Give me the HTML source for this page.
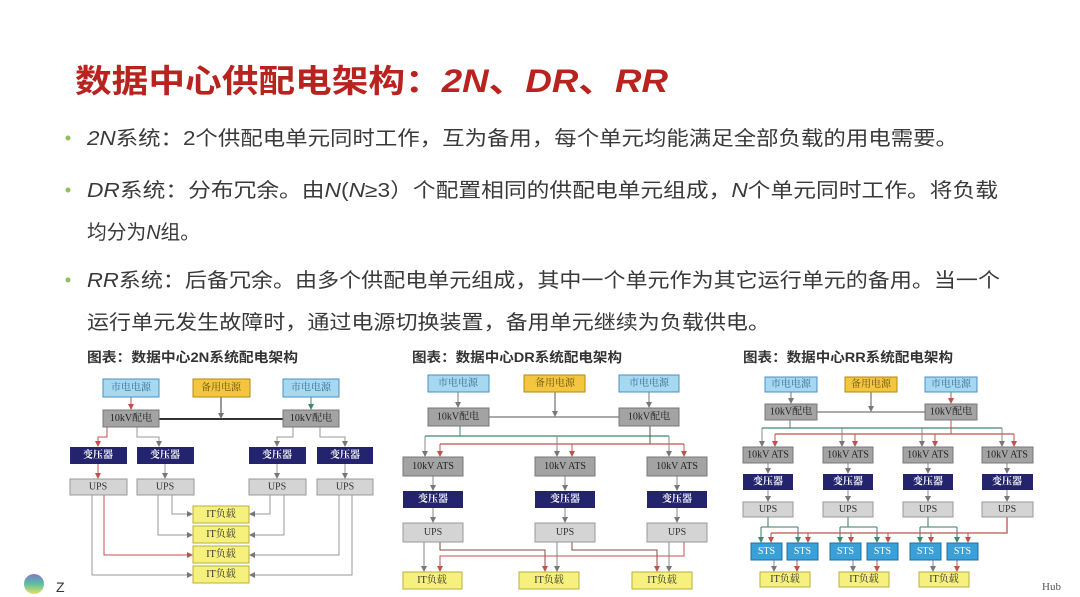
<!DOCTYPE html>
<html><head><meta charset="utf-8"><style>
html,body{margin:0;padding:0;background:#fff;width:1080px;height:597px;overflow:hidden}
svg{display:block}
.t{font-family:"Liberation Sans","Noto Sans CJK SC",sans-serif}
.bx{font-family:"Liberation Serif","Noto Serif CJK SC",serif;font-size:10px;text-anchor:middle;dominant-baseline:central}
</style></head><body>
<svg width="1080" height="597" viewBox="0 0 1080 597" xmlns="http://www.w3.org/2000/svg">
<defs>
<marker id="ag" markerWidth="6" markerHeight="6" refX="5" refY="3" orient="auto" markerUnits="userSpaceOnUse"><path d="M0,0L6,3L0,6z" fill="#777"/></marker>
<marker id="ar" markerWidth="6" markerHeight="6" refX="5" refY="3" orient="auto" markerUnits="userSpaceOnUse"><path d="M0,0L6,3L0,6z" fill="#c0504d"/></marker>
<marker id="an" markerWidth="6" markerHeight="6" refX="5" refY="3" orient="auto" markerUnits="userSpaceOnUse"><path d="M0,0L6,3L0,6z" fill="#3d8a6a"/></marker>
</defs>
<text class="t" x="75" y="92" font-size="32" font-weight="bold" fill="#b8231f" textLength="593" lengthAdjust="spacingAndGlyphs">数据中心供配电架构：<tspan font-style="italic">2N</tspan>、<tspan font-style="italic">DR</tspan>、<tspan font-style="italic">RR</tspan></text>
<g class="t" font-size="20" fill="#3a3a3a">
<circle cx="68" cy="138" r="2.5" fill="#8fbf5a"/>
<text x="87" y="145" textLength="871" lengthAdjust="spacingAndGlyphs"><tspan font-style="italic">2N</tspan>系统：2个供配电单元同时工作，互为备用，每个单元均能满足全部负载的用电需要。</text>
<circle cx="68" cy="190" r="2.5" fill="#8fbf5a"/>
<text x="87" y="197" textLength="911" lengthAdjust="spacingAndGlyphs"><tspan font-style="italic">DR</tspan>系统：分布冗余。由<tspan font-style="italic">N</tspan>(<tspan font-style="italic">N</tspan>≥3）个配置相同的供配电单元组成，<tspan font-style="italic">N</tspan>个单元同时工作。将负载</text>
<text x="87" y="239" textLength="113" lengthAdjust="spacingAndGlyphs">均分为<tspan font-style="italic">N</tspan>组。</text>
<circle cx="68" cy="280" r="2.5" fill="#8fbf5a"/>
<text x="87" y="287" textLength="913" lengthAdjust="spacingAndGlyphs"><tspan font-style="italic">RR</tspan>系统：后备冗余。由多个供配电单元组成，其中一个单元作为其它运行单元的备用。当一个</text>
<text x="87" y="329" textLength="683" lengthAdjust="spacingAndGlyphs">运行单元发生故障时，通过电源切换装置，备用单元继续为负载供电。</text>
</g>
<g class="t" font-size="13.5" font-weight="bold" fill="#333">
<text x="87" y="362" textLength="211" lengthAdjust="spacingAndGlyphs">图表：数据中心2N系统配电架构</text>
<text x="412" y="362" textLength="210" lengthAdjust="spacingAndGlyphs">图表：数据中心DR系统配电架构</text>
<text x="743" y="362" textLength="210" lengthAdjust="spacingAndGlyphs">图表：数据中心RR系统配电架构</text>
</g>

<!-- ===== Diagram 1 ===== -->
<g fill="none" stroke-width="1">
<line x1="131" y1="397" x2="131" y2="409" stroke="#c0504d" marker-end="url(#ar)"/>
<line x1="311" y1="397" x2="311" y2="409" stroke="#3d8a6a" marker-end="url(#an)"/>
<line x1="159" y1="419" x2="283" y2="419" stroke="#333" stroke-width="2"/>
<line x1="221" y1="397" x2="221" y2="418" stroke="#333" marker-end="url(#ag)"/>
<polyline points="107,427 107,437 98,437 98,446" stroke="#c0504d" marker-end="url(#ar)"/>
<polyline points="137,427 137,437 159,437 159,446" stroke="#999" marker-end="url(#ag)"/>
<polyline points="293,427 293,437 277,437 277,446" stroke="#999" marker-end="url(#ag)"/>
<polyline points="320,427 320,437 345,437 345,446" stroke="#999" marker-end="url(#ag)"/>
<line x1="98" y1="464" x2="98" y2="478" stroke="#c0504d" marker-end="url(#ar)"/>
<line x1="165" y1="464" x2="165" y2="478" stroke="#999" marker-end="url(#ag)"/>
<line x1="277" y1="464" x2="277" y2="478" stroke="#999" marker-end="url(#ag)"/>
<line x1="345" y1="464" x2="345" y2="478" stroke="#999" marker-end="url(#ag)"/>
<g stroke="#999">
<polyline points="92,495 92,575 192,575" marker-end="url(#ag)"/>
<polyline points="104,495 104,555 192,555" stroke="#c0504d" marker-end="url(#ar)"/>
<polyline points="158,495 158,535 192,535" marker-end="url(#ag)"/>
<polyline points="172,495 172,514 192,514" marker-end="url(#ag)"/>
<polyline points="270,495 270,514 250,514" marker-end="url(#ag)"/>
<polyline points="284,495 284,535 250,535" marker-end="url(#ag)"/>
<polyline points="339,495 339,555 250,555" marker-end="url(#ag)"/>
<polyline points="352,495 352,575 250,575" marker-end="url(#ag)"/>
</g>
</g>
<g>
<rect x="103" y="379" width="56" height="18" fill="#a6d8f0" stroke="#4a90c2"/><text class="bx" x="131" y="388" fill="#3a6e9a">市电电源</text>
<rect x="193" y="379" width="57" height="18" fill="#f4c640" stroke="#b08a10"/><text class="bx" x="221" y="388" fill="#6a5410">备用电源</text>
<rect x="283" y="379" width="56" height="18" fill="#a6d8f0" stroke="#4a90c2"/><text class="bx" x="311" y="388" fill="#3a6e9a">市电电源</text>
<rect x="103" y="410" width="56" height="17" fill="#a3a3a3" stroke="#777"/><text class="bx" x="131" y="418.5" fill="#222">10kV配电</text>
<rect x="283" y="410" width="56" height="17" fill="#a3a3a3" stroke="#777"/><text class="bx" x="311" y="418.5" fill="#222">10kV配电</text>
<g fill="#23236e"><rect x="70" y="447" width="57" height="17"/><rect x="137" y="447" width="57" height="17"/><rect x="249" y="447" width="57" height="17"/><rect x="317" y="447" width="56" height="17"/></g>
<g fill="#fff" font-weight="bold"><text class="bx" x="98" y="455.5">变压器</text><text class="bx" x="165" y="455.5">变压器</text><text class="bx" x="277" y="455.5">变压器</text><text class="bx" x="345" y="455.5">变压器</text></g>
<g fill="#d4d4d4" stroke="#999"><rect x="70" y="479" width="57" height="16"/><rect x="137" y="479" width="57" height="16"/><rect x="249" y="479" width="57" height="16"/><rect x="317" y="479" width="56" height="16"/></g>
<g fill="#333"><text class="bx" x="98" y="487">UPS</text><text class="bx" x="165" y="487">UPS</text><text class="bx" x="277" y="487">UPS</text><text class="bx" x="345" y="487">UPS</text></g>
<g fill="#f6f07c" stroke="#b8ae40"><rect x="193" y="506" width="56" height="17"/><rect x="193" y="526" width="56" height="17"/><rect x="193" y="546" width="56" height="17"/><rect x="193" y="566" width="56" height="17"/></g>
<g fill="#333"><text class="bx" x="221" y="514.5">IT负载</text><text class="bx" x="221" y="534.5">IT负载</text><text class="bx" x="221" y="554.5">IT负载</text><text class="bx" x="221" y="574.5">IT负载</text></g>
</g>

<!-- ===== Diagram 2 ===== -->
<g fill="none">
<line x1="458" y1="392" x2="458" y2="407" stroke="#777" marker-end="url(#ag)"/>
<line x1="649" y1="392" x2="649" y2="407" stroke="#777" marker-end="url(#ag)"/>
<line x1="489" y1="417" x2="619" y2="417" stroke="#555"/>
<line x1="555" y1="392" x2="555" y2="416" stroke="#555" marker-end="url(#ag)"/>
<polyline points="460,426 460,436" stroke="#3d8a6a"/>
<line x1="425" y1="436" x2="669" y2="436" stroke="#3d8a6a" stroke-width="1.3"/>
<polyline points="650,426 650,444" stroke="#555"/>
<line x1="440" y1="444" x2="684" y2="444" stroke="#c0504d" stroke-width="1.3"/>
<g stroke="#888">
<line x1="425" y1="436" x2="425" y2="456" marker-end="url(#ag)"/>
<line x1="557" y1="436" x2="557" y2="456" marker-end="url(#ag)"/>
<line x1="669" y1="436" x2="669" y2="456" marker-end="url(#ag)"/>
</g>
<g stroke="#c0504d">
<line x1="440" y1="444" x2="440" y2="456" marker-end="url(#ar)"/>
<line x1="572" y1="444" x2="572" y2="456" marker-end="url(#ar)"/>
<line x1="684" y1="444" x2="684" y2="456" marker-end="url(#ar)"/>
</g>
<g stroke="#888">
<line x1="433" y1="476" x2="433" y2="490" marker-end="url(#ag)"/>
<line x1="565" y1="476" x2="565" y2="490" marker-end="url(#ag)"/>
<line x1="677" y1="476" x2="677" y2="490" marker-end="url(#ag)"/>
<line x1="433" y1="508" x2="433" y2="522" marker-end="url(#ag)"/>
<line x1="565" y1="508" x2="565" y2="522" marker-end="url(#ag)"/>
<line x1="677" y1="508" x2="677" y2="522" marker-end="url(#ag)"/>
<line x1="424" y1="542" x2="424" y2="571" marker-end="url(#ag)"/>
<line x1="557" y1="542" x2="557" y2="571" marker-end="url(#ag)"/>
<line x1="669" y1="542" x2="669" y2="571" marker-end="url(#ag)"/>
</g>
<polyline points="440,542 440,550 545,550 545,571" stroke="#8a4a40" marker-end="url(#ar)"/>
<polyline points="572,542 572,550 657,550 657,571" stroke="#8a4a40" marker-end="url(#ar)"/>
<polyline points="684,542 684,556 440,556 440,571" stroke="#c0504d" marker-end="url(#ar)"/>
</g>
<g>
<rect x="428" y="375" width="61" height="17" fill="#a6d8f0" stroke="#4a90c2"/><text class="bx" x="458" y="383.5" fill="#3a6e9a">市电电源</text>
<rect x="524" y="375" width="61" height="17" fill="#f4c640" stroke="#b08a10"/><text class="bx" x="555" y="383.5" fill="#6a5410">备用电源</text>
<rect x="619" y="375" width="60" height="17" fill="#a6d8f0" stroke="#4a90c2"/><text class="bx" x="649" y="383.5" fill="#3a6e9a">市电电源</text>
<rect x="428" y="408" width="61" height="18" fill="#a3a3a3" stroke="#777"/><text class="bx" x="458" y="417" fill="#222">10kV配电</text>
<rect x="619" y="408" width="60" height="18" fill="#a3a3a3" stroke="#777"/><text class="bx" x="649" y="417" fill="#222">10kV配电</text>
<g fill="#a3a3a3" stroke="#777"><rect x="403" y="457" width="60" height="19"/><rect x="535" y="457" width="60" height="19"/><rect x="647" y="457" width="60" height="19"/></g>
<g fill="#222"><text class="bx" x="433" y="466.5">10kV ATS</text><text class="bx" x="565" y="466.5">10kV ATS</text><text class="bx" x="677" y="466.5">10kV ATS</text></g>
<g fill="#23236e"><rect x="403" y="491" width="60" height="17"/><rect x="535" y="491" width="60" height="17"/><rect x="647" y="491" width="60" height="17"/></g>
<g fill="#fff" font-weight="bold"><text class="bx" x="433" y="499.5">变压器</text><text class="bx" x="565" y="499.5">变压器</text><text class="bx" x="677" y="499.5">变压器</text></g>
<g fill="#d4d4d4" stroke="#999"><rect x="403" y="523" width="60" height="19"/><rect x="535" y="523" width="60" height="19"/><rect x="647" y="523" width="60" height="19"/></g>
<g fill="#333"><text class="bx" x="433" y="532.5">UPS</text><text class="bx" x="565" y="532.5">UPS</text><text class="bx" x="677" y="532.5">UPS</text></g>
<g fill="#f6f07c" stroke="#b8ae40"><rect x="403" y="572" width="59" height="17"/><rect x="519" y="572" width="60" height="17"/><rect x="632" y="572" width="60" height="17"/></g>
<g fill="#333"><text class="bx" x="432" y="580.5">IT负载</text><text class="bx" x="549" y="580.5">IT负载</text><text class="bx" x="662" y="580.5">IT负载</text></g>
</g>

<!-- ===== Diagram 3 ===== -->
<g fill="none">
<line x1="791" y1="392" x2="791" y2="403" stroke="#777" marker-end="url(#ag)"/>
<line x1="951" y1="392" x2="951" y2="403" stroke="#c0504d" marker-end="url(#ar)"/>
<line x1="817" y1="412" x2="925" y2="412" stroke="#555"/>
<line x1="871" y1="392" x2="871" y2="411" stroke="#555" marker-end="url(#ag)"/>
<line x1="790" y1="420" x2="790" y2="428" stroke="#3d8a6a"/>
<line x1="762" y1="428" x2="1002" y2="428" stroke="#3d8a6a" stroke-width="1.3"/>
<line x1="951" y1="420" x2="951" y2="434" stroke="#c0504d"/>
<line x1="775" y1="434" x2="1014" y2="434" stroke="#c0504d" stroke-width="1.3"/>
<g stroke="#888">
<line x1="762" y1="428" x2="762" y2="446" marker-end="url(#ag)"/>
<line x1="842" y1="428" x2="842" y2="446" marker-end="url(#ag)"/>
<line x1="922" y1="428" x2="922" y2="446" marker-end="url(#ag)"/>
<line x1="1002" y1="428" x2="1002" y2="446" marker-end="url(#ag)"/>
</g>
<g stroke="#c0504d">
<line x1="775" y1="434" x2="775" y2="446" marker-end="url(#ar)"/>
<line x1="855" y1="434" x2="855" y2="446" marker-end="url(#ar)"/>
<line x1="935" y1="434" x2="935" y2="446" marker-end="url(#ar)"/>
<line x1="1014" y1="434" x2="1014" y2="446" marker-end="url(#ar)"/>
</g>
<g stroke="#888">
<line x1="768" y1="463" x2="768" y2="473" marker-end="url(#ag)"/>
<line x1="848" y1="463" x2="848" y2="473" marker-end="url(#ag)"/>
<line x1="928" y1="463" x2="928" y2="473" marker-end="url(#ag)"/>
<line x1="1007" y1="463" x2="1007" y2="473" marker-end="url(#ag)"/>
<line x1="768" y1="490" x2="768" y2="501" marker-end="url(#ag)"/>
<line x1="848" y1="490" x2="848" y2="501" marker-end="url(#ag)"/>
<line x1="928" y1="490" x2="928" y2="501" marker-end="url(#ag)"/>
<line x1="1007" y1="490" x2="1007" y2="501" marker-end="url(#ag)"/>
</g>
<g stroke="#3d7a6a">
<polyline points="768,517 768,527"/><line x1="761" y1="527" x2="798" y2="527"/>
<line x1="761" y1="527" x2="761" y2="542" marker-end="url(#an)"/><line x1="798" y1="527" x2="798" y2="542" marker-end="url(#an)"/>
<polyline points="848,517 848,527"/><line x1="840" y1="527" x2="877" y2="527"/>
<line x1="840" y1="527" x2="840" y2="542" marker-end="url(#an)"/><line x1="877" y1="527" x2="877" y2="542" marker-end="url(#an)"/>
<polyline points="928,517 928,527"/><line x1="920" y1="527" x2="957" y2="527"/>
<line x1="920" y1="527" x2="920" y2="542" marker-end="url(#an)"/><line x1="957" y1="527" x2="957" y2="542" marker-end="url(#an)"/>
</g>
<g stroke="#c0504d">
<polyline points="1007,517 1007,533 771,533" stroke-width="1.3"/>
<line x1="771" y1="533" x2="771" y2="542" marker-end="url(#ar)"/><line x1="808" y1="533" x2="808" y2="542" marker-end="url(#ar)"/>
<line x1="851" y1="533" x2="851" y2="542" marker-end="url(#ar)"/><line x1="888" y1="533" x2="888" y2="542" marker-end="url(#ar)"/>
<line x1="931" y1="533" x2="931" y2="542" marker-end="url(#ar)"/><line x1="968" y1="533" x2="968" y2="542" marker-end="url(#ar)"/>
</g>
<g stroke="#888">
<line x1="774" y1="560" x2="774" y2="571" marker-end="url(#ag)"/><line x1="797" y1="560" x2="797" y2="571" stroke="#c0504d" marker-end="url(#ar)"/>
<line x1="853" y1="560" x2="853" y2="571" marker-end="url(#ag)"/><line x1="877" y1="560" x2="877" y2="571" stroke="#c0504d" marker-end="url(#ar)"/>
<line x1="933" y1="560" x2="933" y2="571" marker-end="url(#ag)"/><line x1="957" y1="560" x2="957" y2="571" stroke="#c0504d" marker-end="url(#ar)"/>
</g>
</g>
<g>
<rect x="765" y="377" width="52" height="15" fill="#a6d8f0" stroke="#4a90c2"/><text class="bx" x="791" y="384.5" fill="#3a6e9a" font-size="9">市电电源</text>
<rect x="845" y="377" width="52" height="15" fill="#f4c640" stroke="#b08a10"/><text class="bx" x="871" y="384.5" fill="#6a5410" font-size="9">备用电源</text>
<rect x="925" y="377" width="52" height="15" fill="#a6d8f0" stroke="#4a90c2"/><text class="bx" x="951" y="384.5" fill="#3a6e9a" font-size="9">市电电源</text>
<rect x="765" y="404" width="52" height="16" fill="#a3a3a3" stroke="#777"/><text class="bx" x="791" y="412" fill="#222" font-size="9">10kV配电</text>
<rect x="925" y="404" width="52" height="16" fill="#a3a3a3" stroke="#777"/><text class="bx" x="951" y="412" fill="#222" font-size="9">10kV配电</text>
<g fill="#a3a3a3" stroke="#777"><rect x="743" y="447" width="50" height="16"/><rect x="823" y="447" width="50" height="16"/><rect x="903" y="447" width="50" height="16"/><rect x="982" y="447" width="51" height="16"/></g>
<g fill="#222" font-size="9"><text class="bx" x="768" y="455" font-size="9">10kV ATS</text><text class="bx" x="848" y="455" font-size="9">10kV ATS</text><text class="bx" x="928" y="455" font-size="9">10kV ATS</text><text class="bx" x="1007" y="455" font-size="9">10kV ATS</text></g>
<g fill="#23236e"><rect x="743" y="474" width="50" height="16"/><rect x="823" y="474" width="50" height="16"/><rect x="903" y="474" width="50" height="16"/><rect x="982" y="474" width="51" height="16"/></g>
<g fill="#fff" font-weight="bold"><text class="bx" x="768" y="482" font-size="9">变压器</text><text class="bx" x="848" y="482" font-size="9">变压器</text><text class="bx" x="928" y="482" font-size="9">变压器</text><text class="bx" x="1007" y="482" font-size="9">变压器</text></g>
<g fill="#d4d4d4" stroke="#999"><rect x="743" y="502" width="50" height="15"/><rect x="823" y="502" width="50" height="15"/><rect x="903" y="502" width="50" height="15"/><rect x="982" y="502" width="51" height="15"/></g>
<g fill="#333"><text class="bx" x="768" y="509.5" font-size="9">UPS</text><text class="bx" x="848" y="509.5" font-size="9">UPS</text><text class="bx" x="928" y="509.5" font-size="9">UPS</text><text class="bx" x="1007" y="509.5" font-size="9">UPS</text></g>
<g fill="#3aa0d8" stroke="#1f6fa0"><rect x="751" y="543" width="31" height="17"/><rect x="787" y="543" width="31" height="17"/><rect x="830" y="543" width="31" height="17"/><rect x="867" y="543" width="31" height="17"/><rect x="910" y="543" width="31" height="17"/><rect x="947" y="543" width="31" height="17"/></g>
<g fill="#fff"><text class="bx" x="766.5" y="551.5" font-size="9">STS</text><text class="bx" x="802.5" y="551.5" font-size="9">STS</text><text class="bx" x="845.5" y="551.5" font-size="9">STS</text><text class="bx" x="882.5" y="551.5" font-size="9">STS</text><text class="bx" x="925.5" y="551.5" font-size="9">STS</text><text class="bx" x="962.5" y="551.5" font-size="9">STS</text></g>
<g fill="#f6f07c" stroke="#b8ae40"><rect x="760" y="572" width="50" height="15"/><rect x="839" y="572" width="50" height="15"/><rect x="919" y="572" width="50" height="15"/></g>
<g fill="#333"><text class="bx" x="785" y="579.5" font-size="9">IT负载</text><text class="bx" x="864" y="579.5" font-size="9">IT负载</text><text class="bx" x="944" y="579.5" font-size="9">IT负载</text></g>
</g>

<!-- footer -->
<defs><linearGradient id="lg" x1="0" y1="0" x2="0" y2="1"><stop offset="0" stop-color="#7a7acc"/><stop offset="0.5" stop-color="#5cc0a0"/><stop offset="1" stop-color="#e8e060"/></linearGradient></defs>
<circle cx="34" cy="584" r="10" fill="url(#lg)"/>
<text class="t" x="56" y="592" font-size="14" fill="#333">Z</text>
<text x="1042" y="590" font-family="Liberation Serif,serif" font-size="11" fill="#555">Hub</text>
</svg>
</body></html>
